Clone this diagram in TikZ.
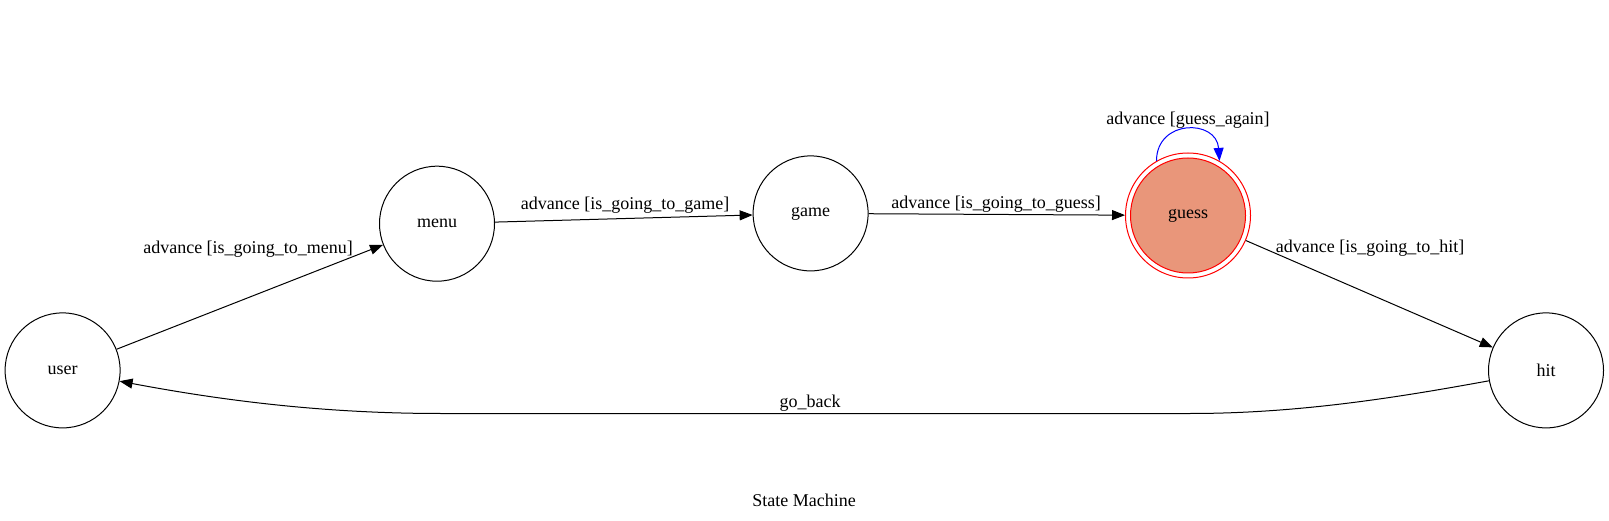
\documentclass[tikz,border=0pt]{standalone}
\usepackage{fontspec}
\setmainfont{Liberation Serif}
\usetikzlibrary{arrows.meta}
\definecolor{salmon}{HTML}{E9967A}

\begin{document}
\begin{tikzpicture}[x=1pt,y=-1pt,
        state/.style={circle,draw,line width=1pt,minimum size=115pt,inner sep=0pt,font=\fontsize{18}{21}\selectfont},
        edge/.style={line width=1pt,-{Triangle[length=13pt,width=10pt]}},
        lbl/.style={font=\fontsize{18}{21}\selectfont,inner sep=1pt}]
            \useasboundingbox (0,0) rectangle (1609,521);
            \node[state] (user) at (62.6,370.4) {user};
            \node[state] (menu) at (437,223.7) {menu};
            \node[state] (game) at (810.6,213.4) {game};
            \node[state,draw=red,minimum size=125pt] (guessring) at (1188,215.5) {};
            \node[state,draw=red,fill=salmon] (guess) at (1188,215.5) {guess};
            \node[state] (hit) at (1546,370.4) {hit};
            \draw[edge] (user) -- (menu);
            \draw[edge] (menu) -- (game);
            \draw[edge] (game) -- (guessring);
            \draw[edge,blue] (guessring.120) .. controls +(0,-42) and +(-3,-42) .. (guessring.60);
            \draw[edge] (guessring) -- (hit);
            \draw[edge] (hit) .. controls (1400,397) and (1300,413.5) .. (1190,413.5) -- (441,413.5) .. controls (330,413.5) and (230,402) .. (user);
            \node[lbl] (menulbl) at (248,249) {advance [is\_going\_to\_menu]};
            \node[lbl] (gamelbl) at (625,205) {advance [is\_going\_to\_game]};
            \node[lbl] (guesslbl) at (996,204) {advance [is\_going\_to\_guess]};
            \node[lbl] (againlbl) at (1188,120) {advance [guess\_again]};
            \node[lbl] (hitlbl) at (1370,248) {advance [is\_going\_to\_hit]};
            \node[lbl] (backlbl) at (810,403) {go\_back};
            \node[lbl] (title) at (804,500) {State Machine};
        \end{tikzpicture}
\end{document}
